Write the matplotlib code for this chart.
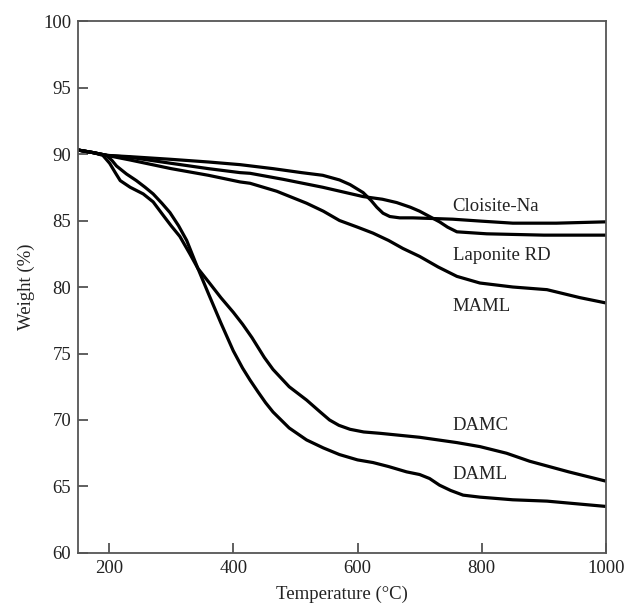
import matplotlib
matplotlib.use("Agg")
import matplotlib.pyplot as plt

plt.rcParams['font.family'] = ['Liberation Serif', 'DejaVu Serif']

# Data (temperature in °C, weight in %)
cloisite_T = [150, 175, 196, 234, 300, 360, 411, 464, 510, 544, 571, 588, 609, 622, 631, 641, 652, 668, 689, 753, 800, 850, 920, 1000]
cloisite_W = [90.3, 90.1, 89.9, 89.8, 89.6, 89.4, 89.2, 88.9, 88.6, 88.4, 88.05, 87.7, 87.1, 86.5, 86.0, 85.55, 85.3, 85.2, 85.2, 85.1, 84.95, 84.8, 84.8, 84.9]

laponite_T = [150, 175, 196, 234, 300, 360, 411, 427, 480, 544, 609, 640, 663, 685, 700, 716, 732, 745, 760, 808, 900, 1000]
laponite_W = [90.3, 90.1, 89.9, 89.75, 89.3, 88.9, 88.6, 88.55, 88.1, 87.5, 86.8, 86.6, 86.35, 86.0, 85.7, 85.3, 84.9, 84.5, 84.15, 84.0, 83.9, 83.9]

maml_T = [150, 175, 196, 234, 300, 360, 411, 427, 470, 518, 545, 571, 600, 625, 650, 673, 700, 730, 760, 797, 850, 905, 958, 1000]
maml_W = [90.3, 90.1, 89.9, 89.55, 88.9, 88.4, 87.9, 87.8, 87.2, 86.3, 85.7, 85.0, 84.5, 84.05, 83.5, 82.9, 82.3, 81.5, 80.8, 80.3, 80.0, 79.8, 79.2, 78.8]

damc_T = [150, 175, 190, 201, 210, 218, 234, 255, 271, 287, 300, 314, 330, 343, 360, 380, 400, 415, 430, 450, 464, 490, 518, 540, 555, 570, 588, 610, 636, 700, 760, 797, 840, 877, 940, 1000]
damc_W = [90.3, 90.1, 89.9, 89.3, 88.6, 88.0, 87.5, 87.0, 86.4, 85.4, 84.6, 83.8, 82.5, 81.4, 80.4, 79.2, 78.1, 77.2, 76.2, 74.7, 73.8, 72.5, 71.5, 70.6, 70.0, 69.6, 69.3, 69.1, 69.0, 68.7, 68.3, 68.0, 67.5, 66.9, 66.1, 65.4]

daml_T = [150, 175, 196, 205, 212, 228, 244, 258, 271, 285, 298, 312, 325, 343, 360, 380, 400, 415, 427, 440, 452, 464, 490, 518, 545, 571, 600, 625, 650, 679, 700, 716, 732, 750, 770, 797, 850, 905, 1000]
daml_W = [90.3, 90.1, 89.9, 89.5, 89.1, 88.5, 88.0, 87.5, 87.0, 86.3, 85.6, 84.6, 83.5, 81.4, 79.5, 77.3, 75.2, 73.9, 73.0, 72.1, 71.3, 70.6, 69.4, 68.5, 67.9, 67.4, 67.0, 66.8, 66.5, 66.1, 65.9, 65.6, 65.1, 64.7, 64.35, 64.2, 64.0, 63.9, 63.5]

labels = ["Cloisite-Na", "Laponite RD", "MAML", "DAMC", "DAML"]
label_T = [753, 753, 753, 753, 753]
label_W = [86.05, 82.4, 78.5, 69.6, 65.9]

fig = plt.figure(figsize=(6.29, 6.13), dpi=100)
ax = fig.add_axes([0.124, 0.0979, 0.8394, 0.8678])

for T, W in [(cloisite_T, cloisite_W), (laponite_T, laponite_W), (maml_T, maml_W),
             (damc_T, damc_W), (daml_T, daml_W)]:
    ax.plot(T, W, color='black', lw=2.3, solid_joinstyle='round', solid_capstyle='butt')

for lab, t, w in zip(labels, label_T, label_W):
    ax.text(t, w, lab, fontsize=13.5, color='#222222', ha='left', va='center')

ax.set_xlim(150, 1000)
ax.set_ylim(60, 100)
ax.set_xticks([200, 400, 600, 800, 1000])
ax.set_yticks([60, 65, 70, 75, 80, 85, 90, 95, 100])
ax.tick_params(direction='in', length=7, width=1.2, color='#444444', labelsize=13.5,
               labelcolor='#222222', pad=5)
for s in ax.spines.values():
    s.set_color('#555555')
    s.set_linewidth(1.3)

ax.set_xlabel("Temperature (°C)", fontsize=13.5, color='#222222', labelpad=6)
ax.set_ylabel("Weight (%)", fontsize=13.5, color='#222222', labelpad=6)

fig.savefig("out.png", dpi=100)
